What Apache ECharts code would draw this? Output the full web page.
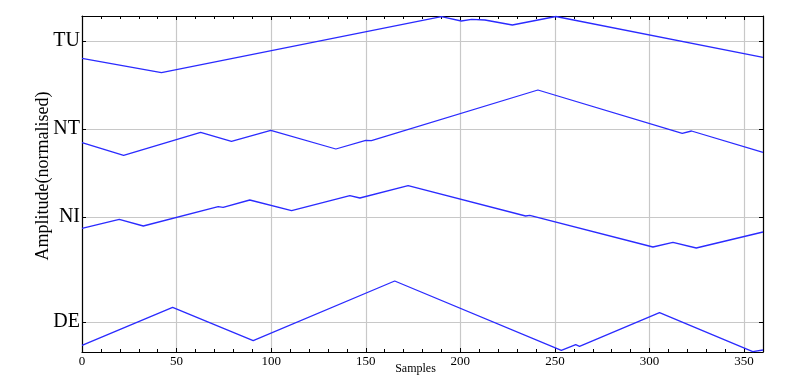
<!DOCTYPE html>
<html>
<head>
<meta charset="utf-8">
<script src="https://cdn.jsdelivr.net/npm/echarts@6/dist/echarts.min.js"></script>
<style>
  html, body { margin: 0; padding: 0; background: #fff; }
  #chart { width: 795px; height: 375px; }
</style>
</head>
<body>
<div id="chart"></div>
<script>
// level names on the y axis and where they sit
const levelNames = ["DE", "NI", "NT", "TU"];
const levelValues = [30, 135, 223, 311];

// series (sample, amplitude)
const tuX = [0, 42, 190, 200.5, 206, 213, 227.5, 250.5, 360];
const tuY = [293.7, 279.3, 335.3, 331, 332.7, 332, 327, 335.5, 294.7];

const ntX = [0, 22, 62.7, 79, 99.8, 134.2, 150, 153, 241, 317.3, 322.2, 360];
const ntY = [209.3, 196.7, 219.7, 210.7, 221.7, 203, 211.7, 211.3, 262, 218.7, 221, 199.7];

const niX = [0, 19.7, 32.4, 72, 74.6, 88.7, 110.8, 141.6, 146.9, 172.4, 234.5, 236.7, 301.8, 312.4, 324.7, 360];
const niY = [123.7, 132.7, 126, 145.3, 144.7, 152, 141.3, 156.3, 154, 166.3, 136, 136.7, 105, 109.7, 104, 120];

const deX = [0, 47.9, 90.5, 165.3, 253.4, 261, 263, 305.3, 354.6, 360];
const deY = [6.7, 44.7, 11.3, 71, 1.7, 7.3, 5.7, 39.3, 0.3, 2];

const pairs = (xs, ys) => xs.map((x, i) => [x, ys[i]]);

const lineColor = "#2b2bff";
const serif = "Liberation Serif";

const mkSeries = (name, xs, ys) => ({
  name: name,
  type: "line",
  data: pairs(xs, ys),
  showSymbol: false,
  symbol: "none",
  lineStyle: { color: lineColor, width: 1.3 },
  animation: false,
});

const frameLine = { show: true, onZero: false, lineStyle: { color: "#000", width: 1.2 } };
const tickStyle = { color: "#000" };

const chart = echarts.init(document.getElementById("chart"));

const option = {
  backgroundColor: "#fff",
  animation: false,
  grid: { left: 82, right: 32, top: 16, bottom: 23, outerBoundsMode: "none", containLabel: false },
  xAxis: [
    {
      type: "value",
      min: 0,
      max: 360,
      interval: 50,
      name: "Samples",
      nameLocation: "middle",
      nameGap: 11,
      nameMoveOverlap: false,
      nameTextStyle: { fontFamily: serif, fontSize: 12, color: "#000", padding: [0, 14, 0, 0] },
      axisLine: frameLine,
      axisTick: { show: true, inside: true, length: 4, lineStyle: tickStyle },
      minorTick: { show: true, splitNumber: 5, length: 3, lineStyle: tickStyle },
      axisLabel: {
        fontFamily: serif,
        fontSize: 13,
        color: "#000",
        margin: 3,
        showMaxLabel: false,
      },
      splitLine: { show: true, lineStyle: { color: "#c8c8c8", width: 1.2 } },
    },
    {
      type: "value",
      position: "top",
      min: 0,
      max: 360,
      interval: 50,
      axisLine: frameLine,
      axisTick: { show: true, inside: true, length: 4, lineStyle: tickStyle },
      minorTick: { show: true, splitNumber: 5, length: 3, lineStyle: tickStyle },
      axisLabel: { show: false },
      splitLine: { show: false },
    },
  ],
  yAxis: [
    {
      type: "value",
      min: 0,
      max: 336,
      name: "Amplitude(normalised)",
      nameLocation: "middle",
      nameGap: 30,
      nameMoveOverlap: false,
      nameTextStyle: { fontFamily: serif, fontSize: 18, color: "#000", padding: [0, 0, 0, 16] },
      axisLine: frameLine,
      axisTick: { show: true, inside: true, length: 4, customValues: levelValues, lineStyle: tickStyle },
      axisLabel: {
        fontFamily: serif,
        fontSize: 20,
        color: "#000",
        margin: 2,
        customValues: levelValues,
        formatter: (v) => levelNames[levelValues.indexOf(v)] || "",
      },
      splitLine: { show: true, lineStyle: { color: "#c8c8c8", width: 1.2 } },
    },
    {
      type: "value",
      position: "right",
      min: 0,
      max: 336,
      axisLine: frameLine,
      axisTick: { show: true, inside: true, length: 4, customValues: levelValues, lineStyle: tickStyle },
      axisLabel: { show: false },
      splitLine: { show: false },
    },
  ],
  series: [
    mkSeries("TU", tuX, tuY),
    mkSeries("NT", ntX, ntY),
    mkSeries("NI", niX, niY),
    mkSeries("DE", deX, deY),
  ],
};

chart.setOption(option);
</script>
</body>
</html>
